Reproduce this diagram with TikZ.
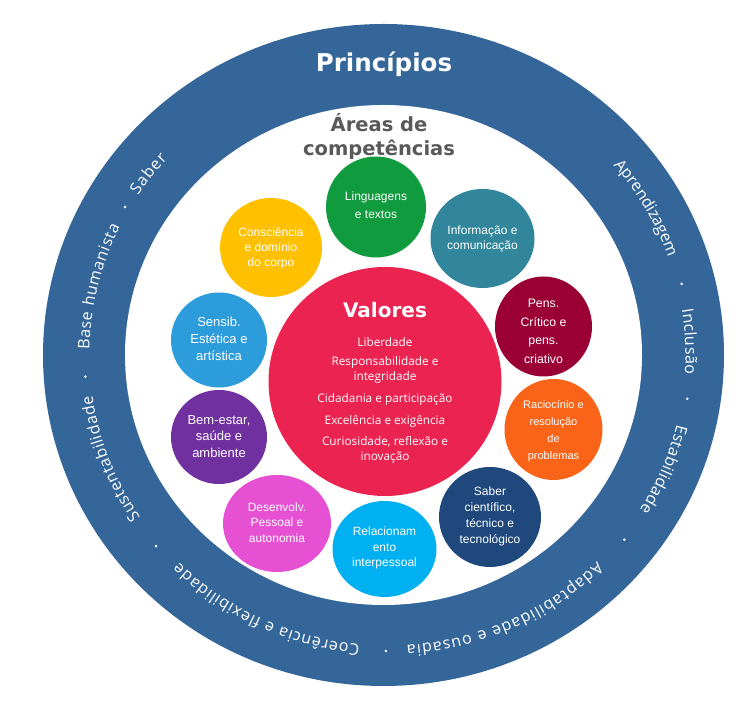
\documentclass[tikz,border=0pt]{standalone}
\usepackage{fontspec}
\setmainfont{Liberation Sans}
\newfontfamily\ringfont{Open Sans}
\newfontfamily\headfont{DejaVu Sans}
\usetikzlibrary{decorations.text}
\definecolor{ringblue}{HTML}{34669A}
\definecolor{headgray}{HTML}{595959}
\definecolor{cgreen}{HTML}{109B3E}
\definecolor{cteal}{HTML}{31869B}
\definecolor{cyellow}{HTML}{FFC000}
\definecolor{cwine}{HTML}{9B0034}
\definecolor{csky}{HTML}{2D9CDB}
\definecolor{cred}{HTML}{EB2351}
\definecolor{cpurple}{HTML}{7030A0}
\definecolor{corange}{HTML}{FA6418}
\definecolor{cmagenta}{HTML}{E650D3}
\definecolor{ccyan}{HTML}{00B0F0}
\definecolor{cnavy}{HTML}{1F497D}
\tikzset{
  btext/.style={align=center, text=white, inner sep=0pt},
  vtext/.style={align=center, text=white, inner sep=0pt, font=\ringfont\fontsize{11.8}{14.5}\selectfont},
  headtext/.style={align=center, inner sep=0pt},
}
\newcommand{\ringword}[3]{%
  \path[decorate, decoration={text along path, text align=fit to path, text color=white,
     text={|\ringfont\fontsize{16}{19}\selectfont|#3}}]
     ([shift={(#1:298pt and 291pt)}]T) arc[start angle=#1, end angle=#2, x radius=298pt, y radius=291pt];}
\newcommand{\ringdot}[1]{\fill[white] ([shift={(#1:303pt and 296pt)}]T) circle[radius=1.4pt];}
\begin{document}
\begin{tikzpicture}[x=1pt,y=1pt]
\useasboundingbox (0,0) rectangle (745,709);
\fill[white] (0,0) rectangle (745,709);
\coordinate (C) at (383.5,354);
\coordinate (T) at (387.5,354);
% ring
\fill[ringblue] (C) ellipse[x radius=340.5pt, y radius=331pt];
\fill[white] (C) ellipse[x radius=258.5pt, y radius=250pt];
% ring texts
\ringword{40.7}{20}{Aprendizagem}
\ringdot{13.9}
\ringword{9}{-3.8}{Inclusão}
\ringdot{-8.5}
\ringword{-13.8}{-32.2}{Estabilidade}
\ringdot{-38.6}
\ringword{-45.3}{-86.3}{Adaptabilidade e ousadia}
\ringdot{-90.3}
\ringword{-95.3}{-134.4}{Coerência e flexibilidade}
\ringdot{-139.8}
\ringword{-146}{-172}{Sustentabilidade}
\ringdot{-175.8}
\ringword{-181}{-206.2}{Base humanista}
\ringdot{-210}
\ringword{-213.2}{-222.4}{Saber}
% titles
\node[headtext, text=white, font=\headfont\bfseries\fontsize{24.5}{28}\selectfont] (princ) at (384,645) {Princípios};
\node[headtext, text=headgray, font=\headfont\bfseries\fontsize{19.5}{24}\selectfont] (areas) at (379,573) {Áreas de\\competências};
% bubbles
\fill[cgreen]   (376,502)     ellipse[x radius=50pt,  y radius=50.5pt];
\fill[cteal]    (482.5,470.5) ellipse[x radius=52pt,  y radius=49.5pt];
\fill[cyellow]  (271,461.5)   ellipse[x radius=51pt,  y radius=49.5pt];
\fill[cwine]    (543.5,382.5) ellipse[x radius=48.5pt,y radius=50pt];
\fill[csky]     (219,369)     ellipse[x radius=48pt,  y radius=47.5pt];
\fill[cred]     (385,327.5)   ellipse[x radius=116.5pt,y radius=114.5pt];
\fill[corange]  (553.5,279.5) ellipse[x radius=49pt,  y radius=50.5pt];
\fill[cpurple]  (219,272)     ellipse[x radius=48pt,  y radius=47pt];
\fill[cmagenta] (277,185.5)   ellipse[x radius=54pt,  y radius=48.5pt];
\fill[ccyan]    (384.5,160)   ellipse[x radius=52pt,  y radius=48pt];
\fill[cnavy]    (490,192)     ellipse[x radius=51pt,  y radius=50pt];
% bubble texts
\node[btext, font=\fontsize{12}{18}\selectfont]   (ling) at (376,504)     {Linguagens\\e textos};
\node[btext, font=\fontsize{12}{14.5}\selectfont] (info) at (482.5,470)   {Informação e\\comunicação};
\node[btext, font=\fontsize{12}{15}\selectfont]   (cons) at (271,461)     {Consciência\\e domínio\\do corpo};
\node[btext, font=\fontsize{12.3}{18.5}\selectfont] (pens) at (543.5,377.5) {Pens.\\Crítico e\\pens.\\criativo};
\node[btext, font=\fontsize{13}{17}\selectfont]   (sens) at (219,370)     {Sensib.\\Estética e\\artística};
\node[btext, font=\fontsize{11}{16.8}\selectfont] (raci) at (553.5,278)   {Raciocínio e\\resolução\\de\\problemas};
\node[btext, font=\fontsize{13}{16.5}\selectfont] (bem)  at (219,272.5)   {Bem-estar,\\saúde e\\ambiente};
\node[btext, font=\fontsize{12}{15.5}\selectfont] (dese) at (277,186.5)   {Desenvolv.\\Pessoal e\\autonomia};
\node[btext, font=\fontsize{12}{15.7}\selectfont] (rela) at (384.5,161)   {Relacionam\\ento\\interpessoal};
\node[btext, font=\fontsize{12}{16}\selectfont]   (sabe) at (490,193)     {Saber\\científico,\\técnico e\\tecnológico};
% valores
\node[headtext, text=white, font=\headfont\bfseries\fontsize{20}{24}\selectfont] (valo) at (385,399) {Valores};
\node[vtext] (v1) at (385,367) {Liberdade};
\node[vtext] (v2) at (385,339) {Responsabilidade e\\integridade};
\node[vtext] (v3) at (385,310) {Cidadania e participação};
\node[vtext] (v4) at (385,288) {Excelência e exigência};
\node[vtext] (v5) at (385,259) {Curiosidade, reflexão e\\inovação};
\end{tikzpicture}
\end{document}
